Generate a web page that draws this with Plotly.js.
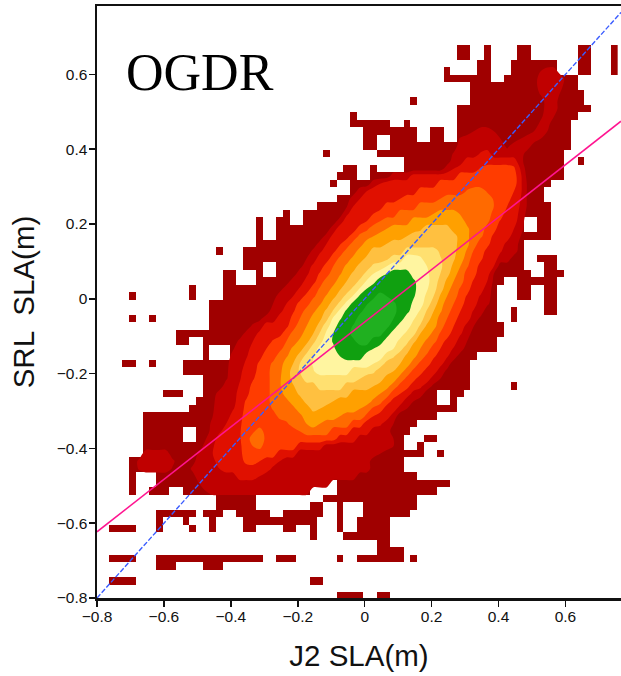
<!DOCTYPE html>
<html><head><meta charset="utf-8">
<script src="https://cdn.plot.ly/plotly-3.0.1.min.js"></script>
<style>html,body{margin:0;padding:0;background:#fff}</style></head><body>
<div id="c" style="width:621px;height:676px"></div>
<script>
// occupied bins (outer colour class), keyed by row number, columns listed
var occupiedRows = {72:"54-55 58 63-64 72-73 77",71:"54-55 58 63-64 72-73 77",70:"57-58 62-68 72-73 77",69:"52 57-58 62-68 72-73 77",68:"52-58 61-71",67:"56-71",66:"56-72",65:"47 56-72",64:"54-73",63:"38 54-71",62:"38-43 46 54-70",61:"40-47 50-51 54-70",60:"40-41 44-47 50-51 54-70",59:"40-41 44-70",58:"34 42-69",57:"46-69 72",56:"37-38 41 46-69",55:"36-38 41-69",54:"35 38-44 47-67",53:"38-44 47-66",52:"36-66",51:"33-67",50:"28 31-67",49:"24 27-28 31-63 66-67",48:"24 27-63 66-67",47:"24 27-67",46:"24-63",45:"18 22-63",44:"22-63 66-68",43:"22-24 27-63 67-68",42:"19-20 24 27-64 67-69",41:"19-20 24-60 63-68",40:"14 19-59 63-64 67-68",39:"5 14 19-59 63-64 67-68",38:"17-59 67-68",37:"17-59 62 67-68",36:"5 8 17-59 62",35:"17-60",34:"12-60",33:"12-13 16-59",32:"16 20-59",31:"16 20-56",30:"4-5 8 13-55",29:"13-55",28:"16-55",27:"16-55 62",26:"10-12 16-50 53-54",25:"15-50 53",24:"14-53",23:"7-50",22:"7-47",21:"7-12 15-46",20:"7-12 15-45 49-50",19:"7-45 48",18:"7-48 51",17:"5-45",16:"5-45",15:"5 9-47",14:"5 9-33 36-52",13:"5 8-10 13-31 36-50",12:"18-23 34-47",11:"18-23 32-33 36 40-47",10:"9-14 16-18 21-25 28-33 36 40-46",9:"9 13 17 22-32 36 39-43",8:"2-5 9 14 17 22-23 28-29 32 36 39-43",7:"32 37-43",6:"42-43",5:"42-45",4:"2-5 9-24 27-29 36 39-45 47",3:"9-11 16-18",1:"2-5 32-33","-1":"36-39 42-43"};
// density class outlines read row by row: [row, left column, right column]
var band2=[[69,66.5,69],[68,66,70],[67,66,69.7],[66,66.4,69.4],[65,67,69],[64,67,69],[63,66.7,68.5],[62,66.3,67.8],[61,56.5,59.5],[61,65.5,67.5],[60,54.4,60.5],[60,63.5,66.5],[59,54,61.3],[59,62,65],[58,53.4,64],[57,53,63.8],[56,52,64],[55,44,64.2],[54,41,64.4],[53,39,64.4],[52,38,64.4],[51,37.6,64.4],[50,37,64.2],[49,36,64],[48,35,63.8],[47,34.2,63.5],[46,33.2,63.2],[45,32.3,63],[44,31.5,62],[43,30.8,60],[42,30,59.5],[41,29,59.3],[40,27.9,59.2],[39,27,59],[38,26.5,58.7],[37,26,58],[36,24.7,57.3],[35,23.3,56.5],[34,22.2,56],[33,21.3,55.5],[32,20.6,55],[31,20.2,54],[30,19.8,53],[29,19.7,52.3],[28,19.6,51.5],[27,19,50.3],[26,18,49],[25,17.7,47.5],[24,17.6,46.5],[23,17.5,45],[22,17.2,44.5],[21,17,44],[20,16.5,44.5],[19,16,44.5],[18,15.3,42.5],[17,14.8,41],[16,14.3,41],[15,14.8,39],[14,15.5,35],[13,16.5,32],[18,7,11],[17,6.3,11.7],[16,6.4,11.4]];
var band3=[[58,57.4,59],[57,55,63],[56,53.5,63.4],[55,47,63.7],[54,42.5,63.7],[53,40.5,63.7],[52,39.5,63.5],[51,38.5,63.4],[50,37.7,63.2],[49,37,62.9],[48,36,62.5],[47,35.2,62],[46,34.5,61.2],[45,33.7,60.6],[44,33,60],[43,32.3,59.5],[42,31.7,59],[41,31.2,58.5],[40,30.4,58],[39,29.5,57.4],[38,28.5,56.9],[37,27.8,56.4],[36,27,55.9],[35,25,55.2],[34,24.2,54.6],[33,23.5,54],[32,23,53.4],[31,22.6,52.6],[30,22.3,51.8],[29,21.8,51],[28,21.6,50],[27,21.4,48.7],[26,21.1,47.2],[25,20.9,46],[24,20.6,45],[23,20.1,44],[22,19.5,42.7],[21,18.7,41],[20,18,39],[19,17.6,34],[18,17.5,30],[17,17.8,27.5],[16,18.5,26.3],[15,21,24.5]];
var band4=[[56,57.4,62.7],[55,54,63],[54,51,63],[53,48,62.5],[52,45.5,62],[51,43,61.5],[50,41.5,61],[49,40.5,60.4],[48,39,59.8],[47,37.8,59.3],[46,36.6,58.8],[45,35.7,58.2],[44,34.9,57.7],[43,34.1,57.2],[42,33.4,56.8],[41,32.8,56.4],[40,32.1,55.9],[39,31.2,55.4],[38,30.2,55],[37,29.6,54.5],[36,29.2,54],[35,28.7,53.5],[34,27.8,53],[33,26.4,52.2],[32,25.5,51.5],[31,24.8,50.7],[30,24.3,50],[29,24,49],[28,23.6,47.8],[27,23.2,46.8],[26,22.8,45.5],[25,22.4,44.2],[24,22.2,43],[23,21.9,41.5],[22,21.7,40],[21,21.6,38],[20,21.6,36],[19,21.7,30],[18,21.8,27],[17,22.2,24.5]];
var band5=[[53,55.4,58.4],[52,51.5,59.4],[51,48,59.5],[50,45,59.2],[49,42.5,58.7],[48,40.7,58.2],[47,39.3,57.7],[46,38.2,57],[45,37.2,56.4],[44,36.3,56],[43,35.5,55.6],[42,34.9,55.2],[41,34.1,54.9],[40,33.4,54.4],[39,32.7,54],[38,31.9,53.5],[37,31.1,53],[36,30.5,52.5],[35,29.9,52],[34,29.2,51.4],[33,28.5,50.8],[32,27.8,50],[31,27,49.3],[30,26.3,48.3],[29,26,47.3],[28,26,46.3],[27,26,45.2],[26,26,44],[25,26,42.8],[24,26.4,41.3],[23,27.2,40.3],[22,28.7,38],[21,30.5,35],[21,23.7,25],[20,23,25.3],[19,23.5,24.8]];
var band6=[[50,50.5,54.4],[49,47,55.2],[48,43.5,55.7],[47,41.5,55.7],[46,40,55.7],[45,39,55.4],[44,38.2,55],[43,37.3,54.5],[42,36.6,54],[41,35.9,53.5],[40,35.2,53],[39,34.4,52.5],[38,33.6,52],[37,32.7,51.6],[36,32.1,51.2],[35,31.5,50.8],[34,30.9,50.2],[33,30.3,49.3],[32,29.3,48.5],[31,28.6,47.8],[30,28,47],[29,27.7,46],[28,27.6,45],[27,27.6,43.8],[26,28,42.5],[25,28.8,41.3],[24,29.8,39.5],[23,30.8,36.5],[22,31.5,33.5]];
var band7=[[48,48.7,53],[47,46.5,54],[46,43.5,54],[45,41,53.8],[44,40.2,53.6],[43,39.1,53.3],[42,38.3,52.8],[41,37.5,52.3],[40,36.6,51.9],[39,35.8,51.4],[38,35,51],[37,34.3,50.5],[36,33.7,50],[35,33.1,49.3],[34,32.5,48.5],[33,31.8,47.7],[32,30.9,47],[31,30.1,46.3],[30,29.5,45.5],[29,29.1,44.5],[28,29.2,43],[27,29.6,41.5],[26,30.3,38],[25,31.2,35.5],[24,32.2,33.5]];
var band8=[[45,46,51.3],[44,43.7,51.6],[43,41.3,51.7],[42,40.2,51.5],[41,39.3,51.2],[40,38.3,50.9],[39,37.2,50.5],[38,36.3,50],[37,35.4,49.4],[36,34.8,48.9],[35,34,48.4],[34,33.4,47.8],[33,32.8,46.8],[32,32,45.8],[31,31.2,44.6],[30,30.5,43.2],[29,30.4,41.7],[28,31,39.5],[27,33,37]];
var band9=[[44,46,48.7],[43,43.5,49.5],[42,41.5,49.7],[41,40.4,49.8],[40,39.4,49.6],[39,38.4,49.3],[38,37.2,48.9],[37,36.2,48.4],[36,35.3,47.6],[35,34.8,47],[34,34.3,46.2],[33,33.8,45.2],[32,33.2,44.5],[31,32.6,43],[30,32.4,41.5],[29,32.6,38]];
var band10=[[42,43.5,47],[41,41.8,47.7],[40,40.5,47.8],[39,39.3,47.6],[38,38.2,47.3],[37,37.3,46.8],[36,36.6,46],[35,36,45],[34,35.5,44],[33,35.4,43],[32,35.7,41.5],[31,36.5,40]];
var band11=[[39,41.75,43.5],[38,40.6,44.75],[37,39.75,44.9],[36,39,44.5],[35,38.4,43.75],[34,38.1,42.75],[33,38.75,41]];
var bands=[band2,band3,band4,band5,band6,band7,band8,band9,band10,band11];
var classColors=["#a00000","#c00000","#e01000","#ff3c00","#ff6a00","#ffa000","#ffc040","#ffe070","#fff5a0","#10a010","#20b020"];
var refLineX=[-0.8,0.766], refLineY=[-0.8,0.766];
var fitLineX=[-0.8,0.766], fitLineY=[-0.623,0.475];
var tickValues=[-0.8,-0.6,-0.4,-0.2,0,0.2,0.4,0.6];

var nCols=78, firstRow=-1, lastRow=73;
var mask=[], level=[];
for(var r=firstRow;r<=lastRow;r++){
  var a=new Array(nCols).fill(null), b=new Array(nCols).fill(1);
  (occupiedRows[r]||"").split(" ").forEach(function(s){
    if(!s)return; var p=s.split("-"), i0=+p[0], i1=p.length>1?+p[1]:i0;
    for(var j=i0;j<=i1;j++)a[j]=1;
  });
  mask.push(a); level.push(b);
}
bands.forEach(function(list){
  var cov=level.map(function(){return new Array(nCols).fill(0)});
  list.forEach(function(s){
    var row=cov[s[0]-firstRow];
    for(var j=0;j<nCols;j++){
      var c=j+0.5, v=Math.max(0,Math.min(1,Math.min(c-s[1],s[2]-c)+0.5));
      if(v>row[j])row[j]=v;
    }
  });
  cov.forEach(function(row,i){row.forEach(function(v,j){level[i][j]+=v})});
});
var cs=classColors.map(function(c,i){return [i/10,i===0?"rgba(0,0,0,0)":c]});
var grid={x0:-0.794,dx:0.02,y0:-0.795,dy:0.02005};
var traces=[
 Object.assign({type:"heatmap",z:mask,zmin:0,zmax:1,colorscale:[[0,classColors[0]],[1,classColors[0]]],showscale:false,hoverinfo:"skip"},grid),
 Object.assign({type:"contour",z:level,zmin:1,zmax:11,autocontour:false,colorscale:cs,showscale:false,hoverinfo:"skip",
   contours:{start:1.5,end:10.5,size:1,coloring:"fill",showlines:false},line:{width:0,smoothing:1}},grid),
 {type:"scatter",mode:"lines",x:refLineX,y:refLineY,line:{color:"#3a5cff",width:1.4,dash:"5px,2px"},hoverinfo:"skip"},
 {type:"scatter",mode:"lines",x:fitLineX,y:fitLineY,line:{color:"#ff1490",width:1.5},hoverinfo:"skip"}
];
var axisFont={family:"Liberation Sans",size:15.5,color:"#111"};
var titleFont={family:"Liberation Sans",size:29.5,color:"#111"};
var layout={width:621,height:676,margin:{l:97,r:0,t:6,b:78},showlegend:false,paper_bgcolor:"#fff",plot_bgcolor:"#fff",
 xaxis:{range:[-0.8,0.766],tickvals:tickValues,ticks:"outside",ticklen:6,tickwidth:1.5,tickcolor:"#111",showline:true,linecolor:"#111",linewidth:2.5,mirror:true,showgrid:false,zeroline:false,tickfont:axisFont,ticklabelstandoff:-3,
   title:{text:"J2 SLA(m)",font:titleFont,standoff:22}},
 yaxis:{range:[-0.8,0.783],tickvals:tickValues,ticks:"outside",ticklen:6,tickwidth:1.5,tickcolor:"#111",showline:true,linecolor:"#111",linewidth:2.5,showgrid:false,zeroline:false,tickfont:axisFont,ticklabelstandoff:-2,
   title:{text:"SRL  SLA(m)",font:titleFont,standoff:14}},
 annotations:[{text:"OGDR",xref:"x",yref:"y",x:-0.72,y:0.606,xanchor:"left",yanchor:"middle",showarrow:false,font:{family:"Liberation Serif",size:52,color:"#000"}}]
};
Plotly.newPlot("c",traces,layout,{displayModeBar:false,staticPlot:true});
</script></body></html>
